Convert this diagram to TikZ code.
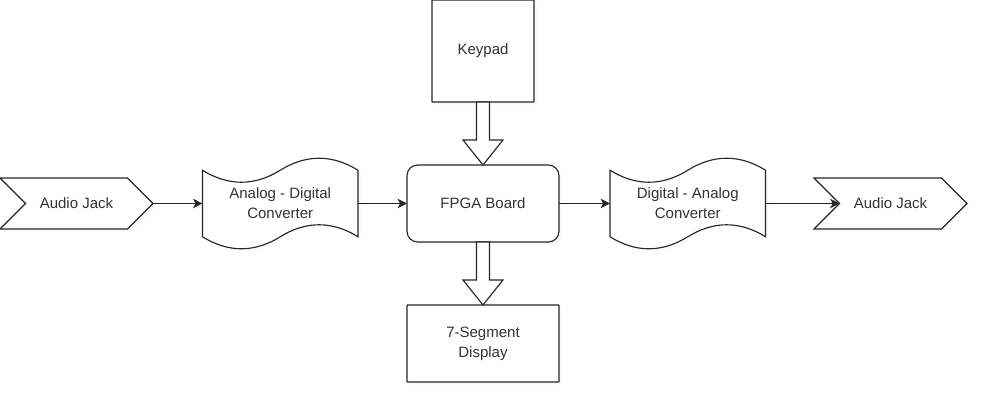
\documentclass[tikz,border=0pt]{standalone}
\usepackage{fontspec}
\setmainfont{Liberation Sans}
\usetikzlibrary{arrows.meta, positioning, shapes.symbols, calc, shadows, backgrounds}

\tikzset{%
  x=0.75pt, y=0.75pt,
  soft shadow/.style={drop shadow={shadow xshift=2pt, shadow yshift=-2pt, fill=blue!30!black!20, opacity=0.1}},
  base/.style={draw=black!85, fill=white, line width=0.85pt, soft shadow,
    inner sep=0pt, outer sep=0pt, align=center, text=black!80,
    font=\fontsize{11.25}{15}\selectfont},
  box/.style={base, rectangle, rounded corners=0.3pt, minimum width=114pt, minimum height=57.75pt},
  board/.style={box, rounded corners=8pt},
  jack/.style={base, signal, signal to=east, signal from=west,
    signal pointer angle=90, minimum width=114.75pt, minimum height=38.25pt},
  wave/.style={rectangle, inner sep=0pt, align=center, text=black!80,
    font=\fontsize{11.25}{15}\selectfont, minimum width=116.25pt, minimum height=49.5pt},
  waveline/.style={draw=black!85, fill=white, line width=0.85pt, soft shadow},
  link/.style={draw=black!85, line width=0.85pt, -{Stealth[length=7pt, width=7pt, inset=1.8pt]}},
  fat/.style={draw=black!85, fill=white, line width=0.85pt, line join=miter},
}

% wave outline behind a named node
\newcommand{\tapeline}[1]{%
  \draw[waveline] (#1.north west) .. controls +(25.8,-16) and +(-25.8,-16) .. (#1.north)
    .. controls +(25.8,16) and +(-25.8,16) .. (#1.north east) -- (#1.south east)
    .. controls +(-25.8,16) and +(25.8,16) .. (#1.south)
    .. controls +(-25.8,-16) and +(25.8,-16) .. (#1.south west) -- cycle;}

% hollow arrow going down from one node to the next
\newcommand{\fatarrow}[2]{%
  \draw[fat] ($(#1.south)+(-6.5,0)$) -- ($(#2.north)+(-6.5,25)$) -- ++(-13.5,0)
    -- (#2.north) -- ($(#2.north)+(20,25)$) -- ++(-13.5,0)
    -- ($(#1.south)+(6.5,0)$) -- cycle;}

\begin{document}
\begin{tikzpicture}
\useasboundingbox (0,0) rectangle (981,-400);

\node (fpga) [board] at (483,-203.5) {FPGA Board};
\node (keypad) [box, minimum width=76.5pt, minimum height=76.5pt, above=47.25pt of fpga] {Keypad};
\node (segdisp) [box, below=47.25pt of fpga] {7-Segment\\Display};

\node (ljack) [jack] at (76.5,-203.5) {Audio Jack};
\node (adc) [wave, left=36.75pt of fpga] {Analog - Digital\\Converter};
\node (dac) [wave, right=38.25pt of fpga] {Digital - Analog\\Converter};
\node (rjack) [jack] at (890.5,-203.5) {Audio Jack};

\begin{scope}[on background layer]
\tapeline{adc}
\tapeline{dac}
\end{scope}

\draw[link] (ljack.east) -- (adc.west);
\draw[link] (adc.east) -- (fpga.west);
\draw[link] (fpga.east) -- (dac.west);
\draw[link] (dac.east) -- (rjack.west);

\fatarrow{keypad}{fpga}
\fatarrow{fpga}{segdisp}
\end{tikzpicture}
\end{document}
